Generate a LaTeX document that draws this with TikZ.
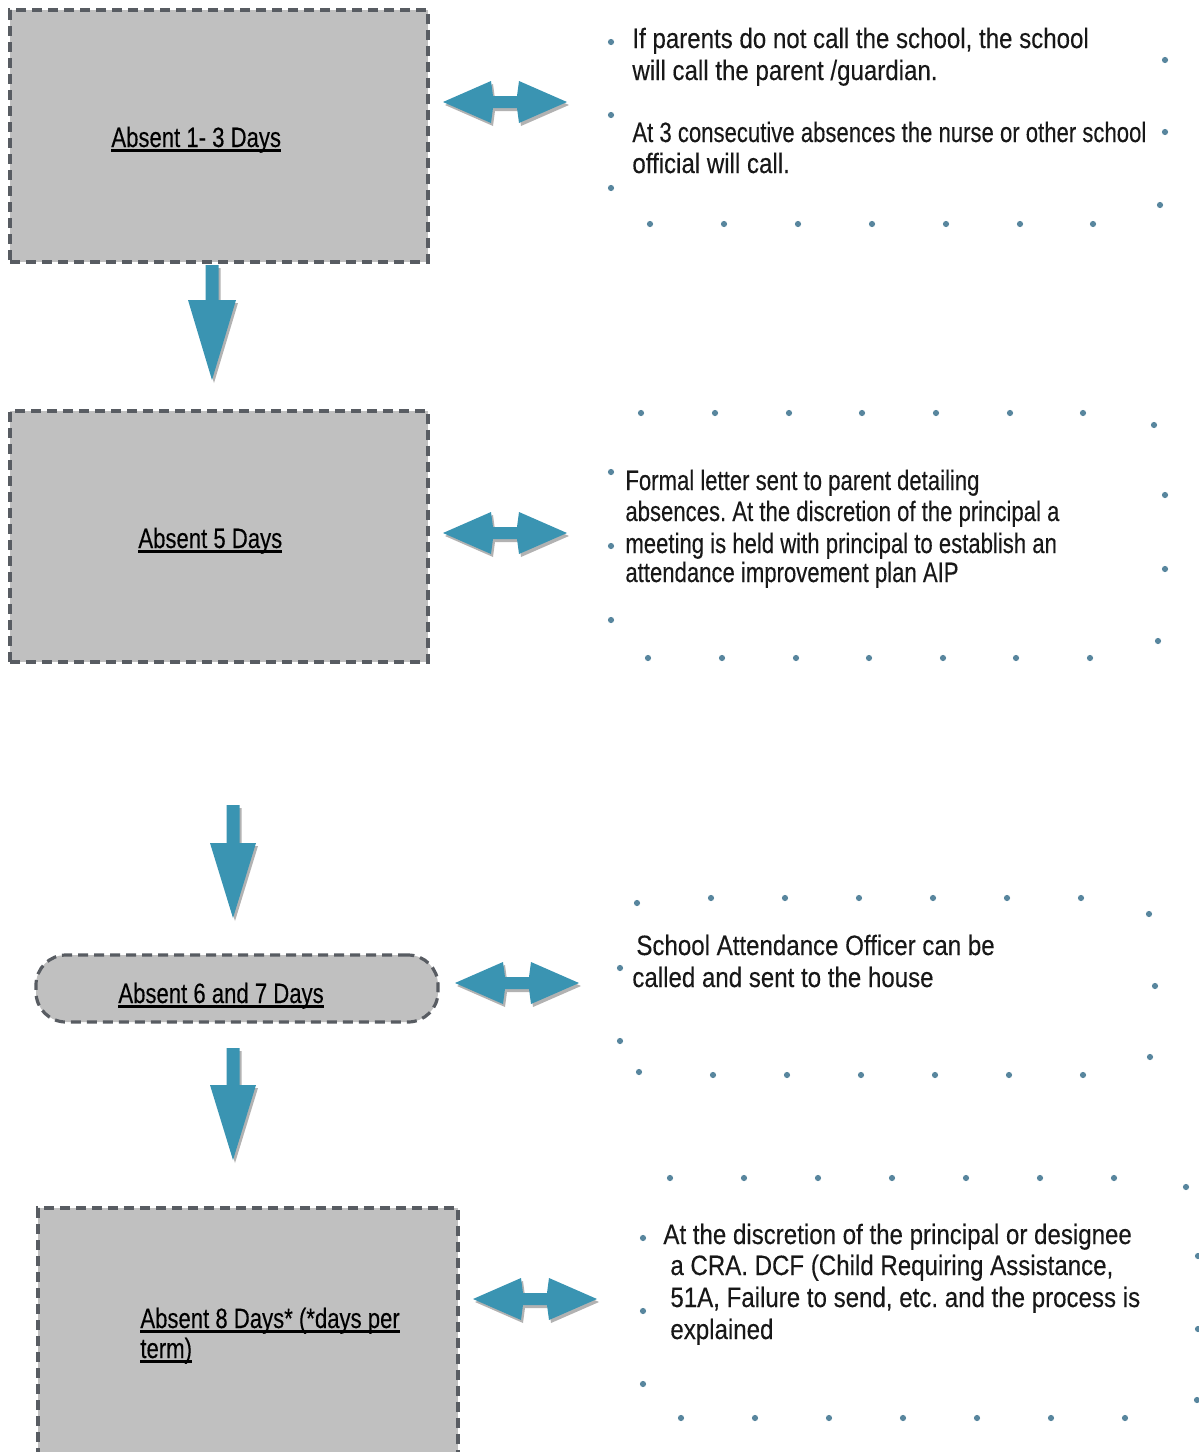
\documentclass[tikz,border=0pt]{standalone}
\usepackage{fontspec}
\setmainfont[FakeStretch=0.79,FakeBold=0.25]{Liberation Sans}
\newfontfamily\wideF[FakeStretch=0.86,FakeBold=0.25]{Liberation Sans}
\usetikzlibrary{shadows}
\definecolor{boxfill}{RGB}{192,192,192}
\definecolor{boxline}{RGB}{88,92,98}
\definecolor{arrowblue}{RGB}{58,148,178}
\definecolor{dotblue}{RGB}{88,134,158}
\definecolor{txt}{RGB}{24,24,24}
\newcommand\thul[1]{\setbox0=\hbox{#1}\rlap{\copy0}\rule[-2.4pt]{\wd0}{1.3pt}}
\frenchspacing
\begin{document}
\begin{tikzpicture}[x=0.5pt,y=-0.5pt,
 boxshape/.style={draw=boxline, fill=boxfill, line width=1.6pt, dash pattern=on 5pt off 3pt, inner sep=0pt, outer sep=0pt, anchor=north west},
 boxlabel/.style={anchor=base west, inner sep=0pt, font=\fontsize{14}{16}\selectfont, text=black},
 body/.style={anchor=base west, inner sep=0pt, font=\fontsize{14}{16}\selectfont, text=txt},
 widebody/.style={body, font=\fontsize{14}{16}\selectfont\wideF},
 blockarrow/.style={fill=arrowblue, drop shadow={shadow xshift=1pt, shadow yshift=-1.5pt, opacity=0.3, fill=black}},
 dot/.style={fill=dotblue}]
\useasboundingbox (0,0) rectangle (1199,1452);
\clip (0,0) rectangle (1199,1452);

% boxes
\node[boxshape, minimum width=209pt, minimum height=126pt] (b1) at (10,10) {};
\node[boxshape, minimum width=209pt, minimum height=125.5pt] (b2) at (10,411) {};
\node[boxshape, rounded corners=15pt, minimum width=201pt, minimum height=33.5pt] (b3) at (36,955) {};
\node[boxshape, minimum width=210pt, minimum height=140pt] (b4) at (38,1208) {};

% box labels
\node[boxlabel] (l1) at (111,147) {\thul{Absent 1- 3 Days}};
\node[boxlabel] (l2) at (138,548) {\thul{Absent 5 Days}};
\node[boxlabel] (l3) at (118,1003) {\thul{Absent 6 and 7 Days}};
\node[boxlabel] (l4a) at (140,1328) {\thul{Absent 8 Days* (*days per}};
\node[boxlabel] (l4b) at (140,1358) {\thul{term)}};

% down arrows
\coordinate (d1) at (212,265);
\coordinate (d2) at (233,805);
\coordinate (d3) at (233,1048);
\fill[blockarrow, shift={(d1)}] (-6.5,0) -- (6.5,0) -- (6.5,35) -- (24,35) -- (0,115) -- (-24,35) -- (-6.5,35) -- cycle;
\fill[blockarrow, shift={(d2)}] (-6.5,0) -- (6.5,0) -- (6.5,38) -- (23,38) -- (0,113) -- (-23,38) -- (-6.5,38) -- cycle;
\fill[blockarrow, shift={(d3)}] (-6.5,0) -- (6.5,0) -- (6.5,37) -- (23,37) -- (0,112) -- (-23,37) -- (-6.5,37) -- cycle;

% double arrows
\foreach \n/\cx/\cy in {h1/505/102, h2/505/533, h3/517/983, h4/535/1299}{
  \coordinate (\n) at (\cx,\cy);
  \fill[blockarrow, shift={(\n)}] (-62,0) -- (-14,-21) -- (-12,-6) -- (12,-6) -- (14,-21) -- (62,0) -- (14,21) -- (12,6) -- (-12,6) -- (-14,21) -- cycle;
}

% dotted frames
\foreach \p in {(611,42),(611,115),(611,188),(1165,60),(1165,132),(1160,205),
 (650,224),(724,224),(798,224),(872,224),(946,224),(1020,224),(1093,224),
 (641,413),(715,413),(789,413),(862,413),(936,413),(1010,413),(1083,413),(1154,425),
 (611,472),(611,546),(611,620),(1165,495),(1165,569),(1158,641),
 (648,658),(722,658),(796,658),(869,658),(943,658),(1016,658),(1090,658),
 (637,903),(711,898),(785,898),(859,898),(933,898),(1007,898),(1081,898),(1149,914),
 (620,968),(620,1041),(1155,986),(1150,1057),
 (639,1072),(713,1075),(787,1075),(861,1075),(935,1075),(1009,1075),(1083,1075),
 (670,1178),(744,1178),(818,1178),(892,1178),(966,1178),(1040,1178),(1114,1178),(1186,1187),
 (643,1238),(643,1311),(643,1384),(1198,1256),(1198,1329),(1197,1400),
 (681,1418),(755,1418),(829,1418),(903,1418),(977,1418),(1051,1418),(1125,1418)}
  \fill[dot] \p circle (1.55pt);

% panel texts
\node[widebody] (t1a) at (632,48) {If parents do not call the school, the school};
\node[widebody] (t1b) at (632,80) {will call the parent /guardian.};
\node[body] (t1c) at (632,142) {At 3 consecutive absences the nurse or other school};
\node[widebody] (t1d) at (632,173) {official will call.};

\node[body] (t2a) at (625,490) {Formal letter sent to parent detailing};
\node[body] (t2b) at (625,521) {absences. At the discretion of the principal a};
\node[body] (t2c) at (625,553) {meeting is held with principal to establish an};
\node[body] (t2d) at (625,582) {attendance improvement plan AIP};

\node[widebody] (t3a) at (636,955) {School Attendance Officer can be};
\node[widebody] (t3b) at (632,987) {called and sent to the house};

\node[widebody] (t4a) at (663,1244) {At the discretion of the principal or designee};
\node[widebody] (t4b) at (670,1275) {a CRA. DCF (Child Requiring Assistance,};
\node[widebody] (t4c) at (670,1307) {51A, Failure to send, etc. and the process is};
\node[widebody] (t4d) at (670,1339) {explained};
\end{tikzpicture}
\end{document}
